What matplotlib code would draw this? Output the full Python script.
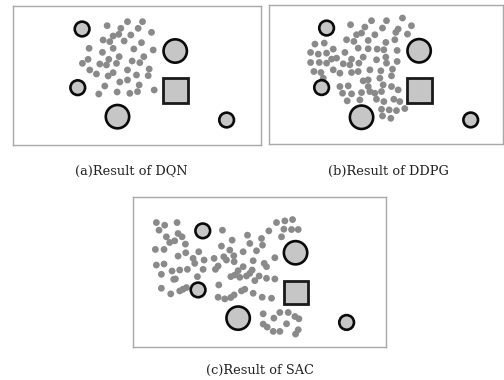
import numpy as np
import matplotlib.pyplot as plt
from matplotlib.patches import Circle, Rectangle

# Positions, in 3x-zoom pixel units of each panel.
captions = ['(a)Result of DQN', '(b)Result of DDPG', '(c)Result of SAC']

dqn_x = [383, 428, 322, 363, 415, 455, 357, 340, 393, 310, 330, 373, 425, 268, 340, 402,
         460, 308, 358, 432, 265, 327, 248, 300, 320, 350, 397, 420, 448, 270, 383, 290,
         340, 325, 410, 445, 383, 360, 418, 315, 463, 297, 352, 390, 413]
dqn_y = [65, 65, 77, 85, 85, 97, 103, 108, 105, 120, 125, 123, 128, 145, 145, 147,
         150, 157, 170, 170, 178, 178, 190, 192, 195, 190, 183, 188, 207, 210, 210, 222,
         218, 228, 225, 227, 240, 246, 255, 258, 270, 282, 276, 280, 275]

ddpg_x = [428, 335, 380, 272, 455, 315, 368, 415, 408, 290, 305, 345, 443, 260, 282, 325,
          378, 405, 165, 193, 220, 295, 325, 352, 372, 412, 152, 175, 200, 255, 275, 350,
          310, 378, 412, 230, 215, 152, 178, 200, 250, 270, 297, 380, 162, 183, 220, 240,
          275, 295, 330, 363, 398, 190, 325, 360, 395, 310, 240, 265, 325, 370, 395, 248,
          275, 305, 330, 345, 365, 415, 262, 300, 350, 372, 402, 420, 365, 388, 410, 435,
          368, 393]
ddpg_y = [55, 63, 63, 75, 78, 82, 85, 88, 98, 105, 100, 105, 103, 120, 125, 122,
          128, 120, 133, 130, 148, 145, 147, 148, 150, 152, 158, 163, 160, 158, 178, 180,
          172, 172, 185, 175, 178, 188, 188, 190, 192, 195, 190, 190, 215, 218, 210, 220,
          218, 215, 210, 213, 208, 235, 240, 235, 228, 243, 260, 258, 260, 255, 260, 280,
          282, 278, 275, 280, 275, 270, 303, 300, 298, 305, 298, 305, 328, 330, 332, 326,
          348, 355]

sac_x = [95, 103, 120, 157, 455, 480, 503, 477, 500, 520, 432, 293, 125, 160, 172, 135,
         150, 368, 470, 322, 410, 182, 92, 118, 375, 290, 315, 413, 222, 183, 160, 355,
         395, 297, 327, 450, 205, 238, 268, 210, 305, 95, 118, 328, 385, 418, 280, 272,
         355, 382, 425, 142, 165, 188, 235, 340, 330, 110, 365, 403, 375, 218, 318, 345,
         425, 450, 147, 152, 390, 282, 110, 175, 185, 165, 360, 350, 138, 385, 280, 300,
         318, 328, 412, 440, 415, 465, 490, 447, 510, 522, 415, 485, 427, 445, 465, 520,
         512]
sac_y = [97, 120, 105, 97, 97, 92, 88, 117, 118, 118, 122, 120, 140, 130, 140, 157,
         152, 135, 140, 150, 145, 162, 178, 178, 160, 168, 180, 165, 185, 188, 198, 185,
         182, 200, 197, 203, 205, 210, 205, 220, 210, 225, 222, 215, 212, 220, 228, 238,
         230, 240, 230, 243, 240, 238, 238, 242, 255, 253, 258, 258, 250, 260, 260, 262,
         265, 267, 268, 267, 272, 285, 295, 298, 293, 303, 298, 303, 312, 310, 322, 327,
         323, 315, 322, 325, 372, 368, 368, 385, 380, 387, 403, 402, 412, 425, 425, 420,
         433]

# obstacles: (x, y, radius)
dqn_circles = [(247, 87, 22), (526, 153, 35), (234, 263, 22), (353, 350, 35), (680, 360, 22)]
ddpg_circles = [(200, 85, 22), (478, 153, 35), (185, 263, 22), (305, 352, 35), (633, 360, 22)]
sac_circles = [(234, 122, 22), (512, 188, 35), (220, 300, 22), (340, 385, 35), (665, 398, 22)]
# goal square: (x0, y0, side)
dqn_square = (490, 235, 73)
ddpg_square = (443, 235, 74)
sac_square = (477, 272, 71)

# frame limits of each panel (x0, x1, y0, y1)
dqn_frame = (40, 783, 18, 435)
ddpg_frame = (27, 730, 16, 432)
sac_frame = (25, 783, 20, 472)

fig = plt.figure(figsize=(5.04, 3.80), dpi=100)
W, H = 504, 380

def draw_panel(box, frame, xs, ys, circles, square):
    left, top, right, bottom = box
    ax = fig.add_axes([left / W, 1 - bottom / H, (right - left) / W, (bottom - top) / H])
    ax.set_xlim(frame[0], frame[1])
    ax.set_ylim(frame[3], frame[2])
    ax.set_xticks([])
    ax.set_yticks([])
    for s in ax.spines.values():
        s.set_color('#a8a8a8')
        s.set_linewidth(1.0)
    ax.scatter(xs, ys, s=24, c='#8a8a8a', edgecolors='none', zorder=2)
    for cx, cy, r in circles:
        ax.add_patch(Circle((cx, cy), r, facecolor='#c6c6c6', edgecolor='#0a0a0a',
                            lw=1.9, zorder=3))
    x0, y0, side = square
    ax.add_patch(Rectangle((x0, y0), side, side, facecolor='#c6c6c6', edgecolor='#1a1a1a',
                           lw=2.0, zorder=3))
    return ax

draw_panel((13, 6, 261, 145), dqn_frame, dqn_x, dqn_y, dqn_circles, dqn_square)
draw_panel((269, 5, 503, 144), ddpg_frame, ddpg_x, ddpg_y, ddpg_circles, ddpg_square)
draw_panel((133, 197, 386, 347), sac_frame, sac_x, sac_y, sac_circles, sac_square)

cap_font = dict(family='DejaVu Serif', fontsize=9.3, color='#222222',
                ha='center', va='center')
fig.text(131 / W, 1 - 171 / H, captions[0], **cap_font)
fig.text(388 / W, 1 - 171 / H, captions[1], **cap_font)
fig.text(260 / W, 1 - 370 / H, captions[2], **cap_font)

fig.savefig('out.png', dpi=100, facecolor='white')
